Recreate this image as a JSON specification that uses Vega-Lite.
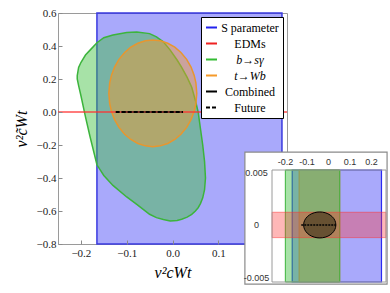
{
  "$schema": "https://vega.github.io/schema/vega-lite/v6.json",
  "width": 229,
  "height": 231,
  "autosize": {"type": "none"},
  "padding": {"left": 58, "top": 13, "right": 103, "bottom": 49},
  "background": "white",
  "config": {
    "view": {"stroke": "#9a9a9a", "strokeWidth": 1},
    "axis": {"grid": false, "labelOverlap": false, "labelFlush": false, "tickColor": "#8a8a8a", "domainColor": "#9a9a9a"},
    "legend": {
      "orient": "top-right", "offset": 4, "padding": 4, "rowPadding": 3,
      "fillColor": "white", "strokeColor": "black", "strokeWidth": 1,
      "symbolType": "stroke", "symbolStrokeWidth": 2, "symbolSize": 121,
      "labelFont": "Liberation Serif", "labelFontSize": 12, "labelColor": "black",
      "labelAlign": "center", "labelOffset": 32, "labelLimit": 120
    }
  },
  "datasets": {
    "blue": [{"x": -0.165, "x2": 0.239, "y": -0.8, "y2": 0.6}],
    "edm": [{"x": -0.25, "x2": 0.25, "y": 0}],
    "green": [
      {"x": -0.208, "y": 0.22, "y2": 0.2},
      {"x": -0.205, "y": 0.27, "y2": 0.16},
      {"x": -0.2, "y": 0.3, "y2": 0.1},
      {"x": -0.19, "y": 0.345, "y2": -0.03},
      {"x": -0.18, "y": 0.375, "y2": -0.15},
      {"x": -0.165, "y": 0.42, "y2": -0.32},
      {"x": -0.15, "y": 0.45, "y2": -0.385},
      {"x": -0.13, "y": 0.467, "y2": -0.445},
      {"x": -0.1, "y": 0.482, "y2": -0.515},
      {"x": -0.078, "y": 0.485, "y2": -0.56},
      {"x": -0.05, "y": 0.475, "y2": -0.62},
      {"x": -0.035, "y": 0.455, "y2": -0.64},
      {"x": -0.02, "y": 0.425, "y2": -0.652},
      {"x": -0.005, "y": 0.375, "y2": -0.66},
      {"x": 0.01, "y": 0.315, "y2": -0.657},
      {"x": 0.02, "y": 0.27, "y2": -0.65},
      {"x": 0.032, "y": 0.21, "y2": -0.637},
      {"x": 0.042, "y": 0.15, "y2": -0.62},
      {"x": 0.05, "y": 0.07, "y2": -0.6},
      {"x": 0.056, "y": 0.0, "y2": -0.58},
      {"x": 0.061, "y": -0.1, "y2": -0.555},
      {"x": 0.066, "y": -0.2, "y2": -0.52},
      {"x": 0.07, "y": -0.3, "y2": -0.47},
      {"x": 0.072, "y": -0.4, "y2": -0.4}
    ],
    "orange": [
      {"x": -0.139, "y": 0.113, "y2": 0.113},
      {"x": -0.1371, "y": 0.1773, "y2": 0.0487},
      {"x": -0.1332, "y": 0.2231, "y2": 0.0029},
      {"x": -0.1265, "y": 0.2722, "y2": -0.0462},
      {"x": -0.1169, "y": 0.3191, "y2": -0.0931},
      {"x": -0.1044, "y": 0.3611, "y2": -0.1351},
      {"x": -0.091, "y": 0.3927, "y2": -0.1667},
      {"x": -0.0756, "y": 0.4166, "y2": -0.1906},
      {"x": -0.0593, "y": 0.4312, "y2": -0.2052},
      {"x": -0.043, "y": 0.436, "y2": -0.21},
      {"x": -0.0267, "y": 0.4312, "y2": -0.2052},
      {"x": -0.0104, "y": 0.4166, "y2": -0.1906},
      {"x": 0.005, "y": 0.3927, "y2": -0.1667},
      {"x": 0.0184, "y": 0.3611, "y2": -0.1351},
      {"x": 0.0309, "y": 0.3191, "y2": -0.0931},
      {"x": 0.0405, "y": 0.2722, "y2": -0.0462},
      {"x": 0.0472, "y": 0.2231, "y2": 0.0029},
      {"x": 0.0511, "y": 0.1773, "y2": 0.0487},
      {"x": 0.053, "y": 0.113, "y2": 0.113}
    ],
    "lines": [
      {"series": "Combined", "x": -0.113, "y": 0},
      {"series": "Combined", "x": 0.023, "y": 0},
      {"series": "Future", "x": -0.124, "y": 0},
      {"series": "Future", "x": 0.023, "y": 0}
    ],
    "inset_box": [{"x": -0.386, "x2": 0.275, "y": -0.0056, "y2": 0.0069}],
    "inset_frame": [{"x": -0.26, "x2": 0.27, "y": -0.0054, "y2": 0.0052}],
    "inset_green": [{"x": -0.198, "x2": 0.055, "y": -0.0054, "y2": 0.0052}],
    "inset_blue": [{"x": -0.166, "x2": 0.249, "y": -0.0054, "y2": 0.0052}],
    "inset_orange": [{"x": -0.134, "x2": 0.055, "y": -0.0054, "y2": 0.0052}],
    "inset_red": [{"x": -0.26, "x2": 0.27, "y": -0.0012, "y2": 0.0012}],
    "inset_ell": [
      {"x": -0.113, "y": 0, "y2": 0},
      {"x": -0.1115, "y": 0.000245, "y2": -0.000245},
      {"x": -0.1085, "y": 0.000419, "y2": -0.000419},
      {"x": -0.1033, "y": 0.000606, "y2": -0.000606},
      {"x": -0.0958, "y": 0.000785, "y2": -0.000785},
      {"x": -0.086, "y": 0.000945, "y2": -0.000945},
      {"x": -0.0755, "y": 0.001065, "y2": -0.001065},
      {"x": -0.0635, "y": 0.001156, "y2": -0.001156},
      {"x": -0.0508, "y": 0.001212, "y2": -0.001212},
      {"x": -0.038, "y": 0.00123, "y2": -0.00123},
      {"x": -0.0253, "y": 0.001212, "y2": -0.001212},
      {"x": -0.0125, "y": 0.001156, "y2": -0.001156},
      {"x": -0.0005, "y": 0.001065, "y2": -0.001065},
      {"x": 0.01, "y": 0.000945, "y2": -0.000945},
      {"x": 0.0198, "y": 0.000785, "y2": -0.000785},
      {"x": 0.0273, "y": 0.000606, "y2": -0.000606},
      {"x": 0.0325, "y": 0.000419, "y2": -0.000419},
      {"x": 0.0355, "y": 0.000245, "y2": -0.000245},
      {"x": 0.037, "y": 0, "y2": 0}
    ],
    "inset_future": [{"x": -0.124, "y": 0}, {"x": 0.037, "y": 0}]
  },
  "layer": [
    {
      "encoding": {
        "x": {"field": "x", "type": "quantitative",
          "scale": {"domain": [-0.25, 0.25], "nice": false, "zero": false},
          "axis": {"orient": "bottom", "values": [-0.2, -0.1, 0, 0.1], "format": ".1f", "tickSize": -4, "labelPadding": 7, "domain": false, "zindex": 1,
            "labelFont": "Liberation Serif", "labelFontSize": 11, "labelColor": "#222",
            "title": "v²cWt", "titleFont": "Liberation Serif", "titleFontSize": 16, "titleFontStyle": "italic", "titleFontWeight": "normal", "titleColor": "black", "titlePadding": 6}},
        "y": {"field": "y", "type": "quantitative",
          "scale": {"domain": [-0.8, 0.6], "nice": false, "zero": false},
          "axis": {"orient": "left", "values": [-0.8, -0.6, -0.4, -0.2, 0, 0.2, 0.4, 0.6], "format": ".1f", "tickSize": -4, "labelPadding": 6, "domain": false, "zindex": 1,
            "labelFont": "Liberation Serif", "labelFontSize": 11, "labelColor": "#222",
            "title": "v²c̃Wt", "titleFont": "Liberation Serif", "titleFontSize": 16, "titleFontStyle": "italic", "titleFontWeight": "normal", "titleColor": "black", "titlePadding": 7}}
      },
      "layer": [
        {"data": {"name": "blue"}, "mark": {"type": "rect", "fill": "#2828f5", "fillOpacity": 0.4, "stroke": "#3a3ae0", "strokeWidth": 1.5},
          "encoding": {"x2": {"field": "x2"}, "y2": {"field": "y2"}}},
        {"data": {"name": "green"}, "mark": {"type": "area", "fill": "#3cbe3c", "fillOpacity": 0.45, "stroke": "#3cb43c", "strokeWidth": 1.5},
          "encoding": {"y2": {"field": "y2"}}},
        {"data": {"name": "orange"}, "mark": {"type": "area", "fill": "#f59a2a", "fillOpacity": 0.45, "stroke": "#e8962e", "strokeWidth": 1.5},
          "encoding": {"y2": {"field": "y2"}}},
        {"data": {"name": "edm"}, "mark": {"type": "rule", "stroke": "#ff3030", "strokeWidth": 1.5, "opacity": 0.85},
          "encoding": {"x2": {"field": "x2"}}},
        {"data": {"name": "lines"}, "mark": {"type": "line"},
          "encoding": {
            "color": {"field": "series", "type": "nominal",
              "scale": {"domain": ["S parameter", "EDMs", "b→sγ", "t→Wb", "Combined", "Future"], "range": ["#2222ee", "#ee2222", "#33bb33", "#f59a2a", "black", "black"]},
              "legend": {"title": null, "encode": {"labels": {"update": {"fontStyle": {"signal": "datum.label === 'b→sγ' || datum.label === 't→Wb' ? 'italic' : 'normal'"}}}}}},
            "strokeDash": {"field": "series", "type": "nominal",
              "scale": {"domain": ["S parameter", "EDMs", "b→sγ", "t→Wb", "Combined", "Future"], "range": [[1, 0], [1, 0], [1, 0], [1, 0], [1, 0], [4, 2]]},
              "legend": {"title": null}},
            "strokeWidth": {"field": "series", "type": "nominal", "scale": {"domain": ["Combined", "Future"], "range": [1, 2.2]}, "legend": null}
          }}
      ]
    },
    {
      "encoding": {
        "x": {"field": "x", "type": "quantitative",
          "scale": {"domain": [-0.26, 0.27], "range": [214, 328], "nice": false, "zero": false},
          "axis": {"orient": "top", "offset": -157, "values": [-0.2, -0.1, 0, 0.1, 0.2], "labelExpr": "datum.value === 0 ? '0' : replace(format(datum.value, '.1f'), '−', '-')", "tickSize": 0, "labelPadding": 4, "domain": false, "zindex": 2,
            "labelFont": "Liberation Sans", "labelFontSize": 9, "labelColor": "#333", "title": null}},
        "y": {"field": "y", "type": "quantitative",
          "scale": {"domain": [-0.0054, 0.0052], "range": [269, 157], "nice": false, "zero": false},
          "axis": {"orient": "left", "offset": -214, "values": [-0.005, 0, 0.005], "labelExpr": "datum.value === 0 ? '0' : replace(format(datum.value, '.3f'), '−', '-')", "tickSize": 0, "labelPadding": 16, "labelAlign": "center", "domain": false, "zindex": 2,
            "labelFont": "Liberation Sans", "labelFontSize": 9, "labelColor": "#333", "title": null}}
      },
      "layer": [
        {"data": {"name": "inset_box"}, "mark": {"type": "rect", "fill": "white", "stroke": "#8a8a8a", "strokeWidth": 1.2},
          "encoding": {"x2": {"field": "x2"}, "y2": {"field": "y2"}}},
        {"data": {"name": "inset_blue"}, "mark": {"type": "rect", "fill": "#2828f5", "fillOpacity": 0.4, "stroke": "#2a2af0", "strokeWidth": 1.2},
          "encoding": {"x2": {"field": "x2"}, "y2": {"field": "y2"}}},
        {"data": {"name": "inset_orange"}, "mark": {"type": "rect", "fill": "#e8962e", "fillOpacity": 0.45, "stroke": "#e07a5a", "strokeWidth": 1},
          "encoding": {"x2": {"field": "x2"}, "y2": {"field": "y2"}}},
        {"data": {"name": "inset_green"}, "mark": {"type": "rect", "fill": "#3cbe3c", "fillOpacity": 0.45, "stroke": "#3cb43c", "strokeWidth": 1},
          "encoding": {"x2": {"field": "x2"}, "y2": {"field": "y2"}}},
        {"data": {"name": "inset_red"}, "mark": {"type": "rect", "fill": "#ff3030", "fillOpacity": 0.35, "stroke": "#ff3030", "strokeOpacity": 0.5, "strokeWidth": 1},
          "encoding": {"x2": {"field": "x2"}, "y2": {"field": "y2"}}},
        {"data": {"name": "inset_ell"}, "mark": {"type": "area", "fill": "#2a2a10", "fillOpacity": 0.55, "stroke": "black", "strokeWidth": 1},
          "encoding": {"y2": {"field": "y2"}}},
        {"data": {"name": "inset_future"}, "mark": {"type": "line", "stroke": "black", "strokeWidth": 1.5, "strokeDash": [2, 1]}, "encoding": {}},
        {"data": {"name": "inset_frame"}, "mark": {"type": "rect", "fill": null, "fillOpacity": 0, "stroke": "#9a9a9a", "strokeWidth": 1},
          "encoding": {"x2": {"field": "x2"}, "y2": {"field": "y2"}}}
      ]
    }
  ],
  "resolve": {"scale": {"x": "independent", "y": "independent"}}
}
